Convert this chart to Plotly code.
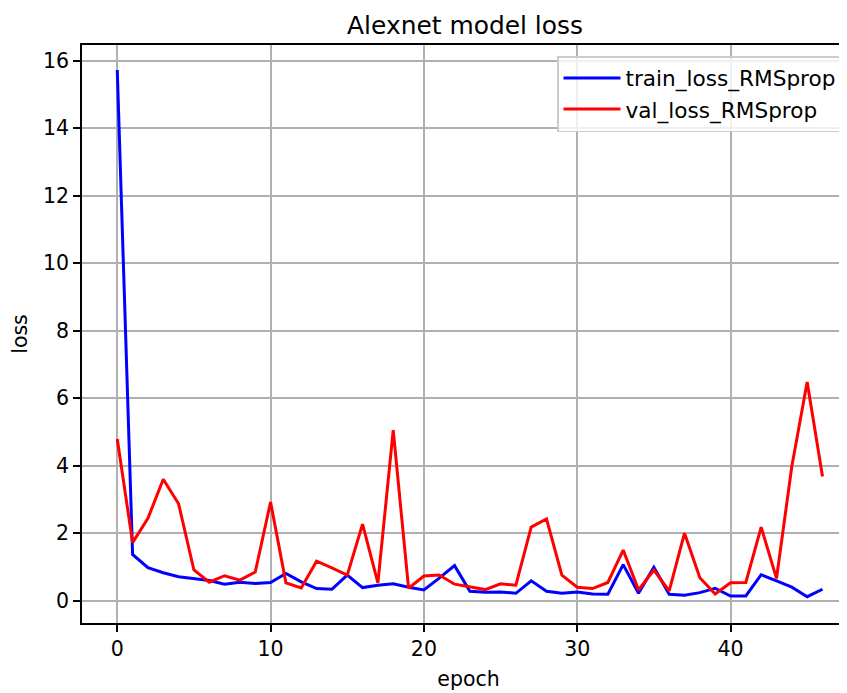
import plotly.graph_objects as go

epochs = list(range(47))
train_loss = [15.72, 1.37, 0.98, 0.83, 0.71, 0.65, 0.60, 0.49, 0.55, 0.51,
              0.54, 0.81, 0.56, 0.36, 0.34, 0.76, 0.39, 0.46, 0.50, 0.40,
              0.32, 0.67, 1.04, 0.28, 0.25, 0.26, 0.22, 0.59, 0.28, 0.22,
              0.26, 0.20, 0.19, 1.07, 0.22, 0.99, 0.19, 0.16, 0.24, 0.37,
              0.14, 0.14, 0.77, 0.59, 0.40, 0.12, 0.34]
val_loss = [4.79, 1.72, 2.44, 3.60, 2.87, 0.91, 0.55, 0.74, 0.61, 0.85,
            2.92, 0.53, 0.38, 1.17, 0.97, 0.76, 2.27, 0.53, 5.05, 0.37,
            0.73, 0.76, 0.49, 0.42, 0.33, 0.50, 0.46, 2.18, 2.42, 0.76,
            0.40, 0.36, 0.54, 1.50, 0.32, 0.91, 0.29, 2.00, 0.68, 0.20,
            0.53, 0.54, 2.18, 0.66, 3.98, 6.48, 3.68]
x_ticks = [0, 10, 20, 30, 40]
y_ticks = [0, 2, 4, 6, 8, 10, 12, 14, 16]

FONT = "DejaVu Sans"
# page is rendered with an 8px body offset; layout numbers below compensate
OFF = 8
W, H = 847, 693
L, T, B = 82 - OFF, 45 - OFF, H - (623 - OFF)

fig = go.Figure()
fig.add_trace(go.Scatter(x=epochs, y=train_loss, mode="lines", name="train_loss_RMSprop",
                         line=dict(color="#0000ff", width=3)))
fig.add_trace(go.Scatter(x=epochs, y=val_loss, mode="lines", name="val_loss_RMSprop",
                         line=dict(color="#ff0000", width=3)))

axis_common = dict(showgrid=True, gridcolor="#b0b0b0", gridwidth=1.6,
                   showline=True, linecolor="black", linewidth=1.6,
                   ticks="outside", ticklen=7, tickwidth=1.6, tickcolor="black",
                   zeroline=False, automargin=False,
                   tickfont=dict(family=FONT, size=20.5, color="black"))

plot_w = W - L
plot_h = H - T - B
fig.update_layout(
    width=W, height=H,
    margin=dict(l=L, r=0, t=T, b=B, autoexpand=False),
    paper_bgcolor="white", plot_bgcolor="white",
    font=dict(family=FONT, size=20.5, color="black"),
    title=dict(text="Alexnet model loss", x=(465 - OFF)/W, xref="container", xanchor="center",
               y=1-(25 - OFF)/H, yref="container", yanchor="middle",
               font=dict(family=FONT, size=24.9, color="black")),
    xaxis=dict(range=[-2.3, 48.12], tickvals=x_ticks, mirror=True,
               title=dict(text="epoch", standoff=11, font=dict(family=FONT, size=20.5)),
               **axis_common),
    yaxis=dict(range=[-0.66, 16.46], tickvals=y_ticks, mirror=False,
               title=dict(text="loss", standoff=10, font=dict(family=FONT, size=20.5)),
               **axis_common),
    legend=dict(x=(557 - OFF - L)/plot_w, xanchor="left", y=1 - (56-45)/plot_h, yanchor="top",
                xref="paper", yref="paper",
                bgcolor="rgba(255,255,255,0.8)", bordercolor="#cccccc", borderwidth=1.5,
                itemwidth=57,
                font=dict(family=FONT, size=21.6, color="black")),
    showlegend=True,
)

fig.write_html("out.html")
